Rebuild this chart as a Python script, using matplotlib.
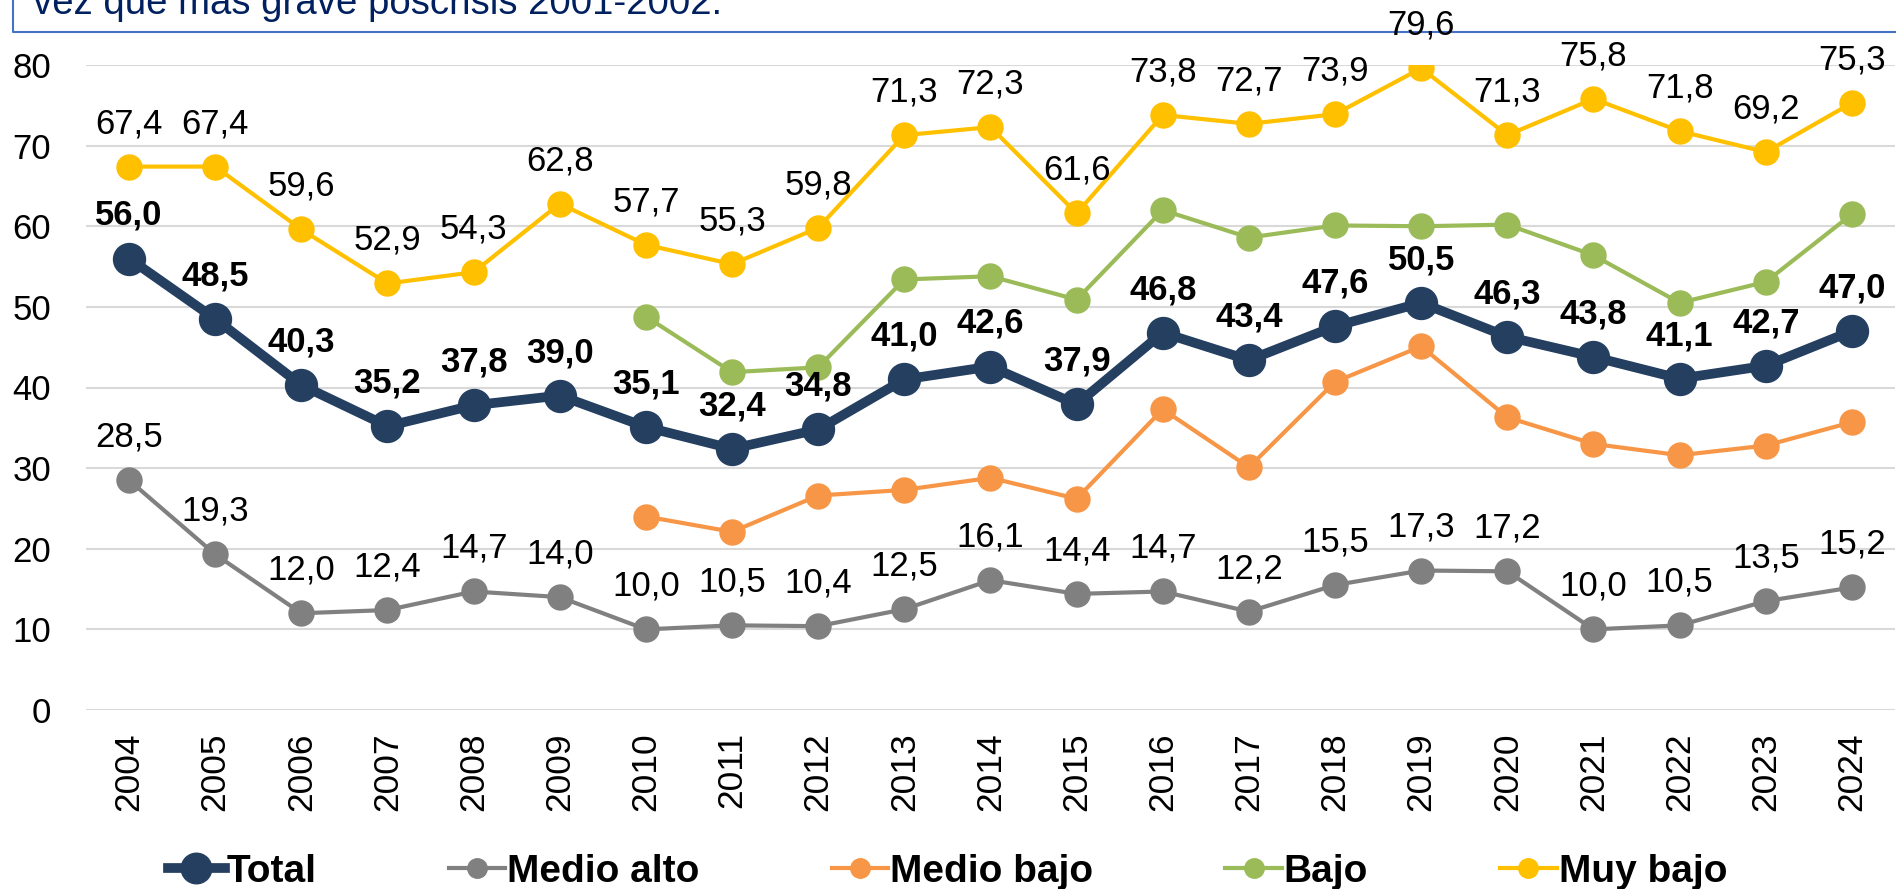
import matplotlib.pyplot as plt
from matplotlib.lines import Line2D

plt.rcParams['font.family'] = ['Liberation Sans', 'DejaVu Sans']

years = [str(y) for y in range(2004, 2025)]

total = [56.0, 48.5, 40.3, 35.2, 37.8, 39.0, 35.1, 32.4, 34.8, 41.0, 42.6,
         37.9, 46.8, 43.4, 47.6, 50.5, 46.3, 43.8, 41.1, 42.7, 47.0]
medio_alto = [28.5, 19.3, 12.0, 12.4, 14.7, 14.0, 10.0, 10.5, 10.4, 12.5, 16.1,
              14.4, 14.7, 12.2, 15.5, 17.3, 17.2, 10.0, 10.5, 13.5, 15.2]
# Medio bajo y Bajo solo desde 2010 (sin etiquetas en el original)
medio_bajo = [None] * 6 + [24.0, 22.1, 26.6, 27.3, 28.8, 26.2, 37.3, 30.1,
                           40.7, 45.1, 36.3, 33.0, 31.6, 32.8, 35.7]
bajo = [None] * 6 + [48.8, 41.9, 42.5, 53.4, 53.8, 50.9, 62.0, 58.6,
                     60.1, 60.0, 60.2, 56.4, 50.5, 53.1, 61.5]
muy_bajo = [67.4, 67.4, 59.6, 52.9, 54.3, 62.8, 57.7, 55.3, 59.8, 71.3, 72.3,
            61.6, 73.8, 72.7, 73.9, 79.6, 71.3, 75.8, 71.8, 69.2, 75.3]

c_total = '#243F60'
c_alto = '#808080'
c_mbajo = '#F79646'
c_bajo = '#9BBB59'
c_muy = '#FFC000'

fig = plt.figure(figsize=(18.96, 8.89), dpi=100)
ax = fig.add_axes([86/1896, 1-710/889, 1809/1896, 645/889])

x = list(range(len(years)))


def plot_series(vals, color, lw, ms, z):
    xs = [i for i, v in zip(x, vals) if v is not None]
    ys = [v for v in vals if v is not None]
    ax.plot(xs, ys, color=color, lw=lw, marker='o', ms=ms, zorder=z)


plot_series(medio_alto, c_alto, 3, 18, 3)
plot_series(medio_bajo, c_mbajo, 3, 18, 3)
plot_series(bajo, c_bajo, 3, 18, 3)
plot_series(muy_bajo, c_muy, 3, 18, 3)
plot_series(total, c_total, 7, 23, 4)


def fmt(v):
    return f'{v:.1f}'.replace('.', ',')


for i, v in enumerate(muy_bajo):
    ax.annotate(fmt(v), (i, v), xytext=(0, 31), textcoords='offset points',
                ha='center', va='center', fontsize=25, annotation_clip=False, zorder=6)
for i, v in enumerate(medio_alto):
    ax.annotate(fmt(v), (i, v), xytext=(0, 31), textcoords='offset points',
                ha='center', va='center', fontsize=25, annotation_clip=False, zorder=6)
for i, v in enumerate(total):
    ax.annotate(fmt(v), (i, v), xytext=(0, 31), textcoords='offset points',
                ha='center', va='center', fontsize=25, fontweight='bold',
                annotation_clip=False, zorder=6)

ax.set_xlim(-0.5, len(years) - 0.5)
ax.set_ylim(0, 80)
ax.set_yticks(range(0, 81, 10))
ax.set_xticks(x)
ax.set_xticklabels(years, rotation=90)
ax.tick_params(axis='x', length=0, labelsize=25.5, pad=16)
ax.tick_params(axis='y', length=0, labelsize=25, pad=25)
ax.grid(axis='y', color='#D9D9D9', lw=1.5)
ax.set_axisbelow(True)
for s in ax.spines.values():
    s.set_visible(False)

# caja de texto cortada arriba
fig.add_artist(Line2D([13/1896, 13/1896, 1.0], [1.05, 1-32/889, 1-32/889],
                      transform=fig.transFigure, color='#4472C4', lw=1.5, zorder=-1))
fig.text(33/1896, 1-14/889, 'vez que más grave poscrisis 2001-2002.',
         color='#002060', fontsize=27.6, va='baseline', ha='left')

handles = [
    Line2D([], [], color=c_total, lw=7, marker='o', ms=22),
    Line2D([], [], color=c_alto, lw=3, marker='o', ms=14),
    Line2D([], [], color=c_mbajo, lw=3, marker='o', ms=14),
    Line2D([], [], color=c_bajo, lw=3, marker='o', ms=14),
    Line2D([], [], color=c_muy, lw=3, marker='o', ms=14),
]
labels = ['Total', 'Medio alto', 'Medio bajo', 'Bajo', 'Muy bajo']
fig.legend(handles, labels, loc='center', bbox_to_anchor=(0.4998, 17/889), ncol=5,
           frameon=False, prop={'size': 28, 'weight': 'bold'},
           handlelength=1.45, handletextpad=0.05, columnspacing=3.4,
           borderpad=0, borderaxespad=0)

fig.savefig('out.png', dpi=100)
